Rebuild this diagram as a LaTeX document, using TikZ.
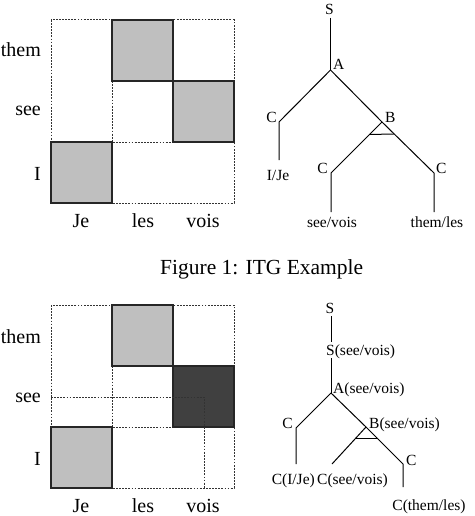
\documentclass[tikz,border=0pt]{standalone}
\usepackage{fontspec}
\setmainfont{Liberation Serif}
\usetikzlibrary{calc}
\begin{document}
\begin{tikzpicture}[x=1pt,y=-1pt,
  gridlbl/.style={inner sep=0pt,font=\fontsize{20}{24}\selectfont},
  treelbl/.style={inner sep=0pt,font=\fontsize{15.5}{18}\selectfont},
  caplbl/.style={inner sep=0pt,font=\fontsize{21.5}{26}\selectfont},
  dashline/.style={draw=black!80,line width=1pt,dash pattern=on 1.8pt off 1.3pt},
  cellbox/.style={draw=black!85,line width=1.1pt},
  branch/.style={draw=black,line width=1pt}]
\useasboundingbox (0,0) rectangle (474,516);
% ---------- top grid ----------
\draw[dashline] (51,20) rectangle (234,203);
\draw[dashline] (112,81) -- (112,142) -- (173,142);
\draw[cellbox,fill=black!25] (112,20) rectangle (173,81);
\draw[cellbox,fill=black!25] (173,81) rectangle (234,142);
\draw[cellbox,fill=black!25] (51,142) rectangle (112,203);
\node[gridlbl,anchor=base east] (t1) at (41,57) {them};
\node[gridlbl,anchor=base east] (t2) at (41,116) {see};
\node[gridlbl,anchor=base east] (t3) at (41,180) {I};
\node[gridlbl,anchor=base] (t4) at (81,227) {Je};
\node[gridlbl,anchor=base] (t5) at (143,227) {les};
\node[gridlbl,anchor=base] (t6) at (203,227) {vois};
% ---------- top tree ----------
\node[treelbl,anchor=base] (S1) at (329.5,15) {S};
\coordinate (S1b) at (330.5,18);
\coordinate (A1) at (330.5,70);
\coordinate (C1) at (279,122);
\coordinate (C1b) at (279,160);
\coordinate (B1) at (382,122);
\coordinate (C2) at (331,173);
\coordinate (C2b) at (331,212);
\coordinate (C3) at (434,173);
\coordinate (C3b) at (434,212);
\node[treelbl,anchor=base west] (A1l) at (333,70) {A};
\node[treelbl,anchor=base east] (C1l) at (277,122) {C};
\node[treelbl,anchor=base west] (B1l) at (385,122) {B};
\node[treelbl,anchor=base east] (C2l) at (328,173) {C};
\node[treelbl,anchor=base west] (C3l) at (436,173) {C};
\node[treelbl,anchor=base] (L1) at (278,180) {I/Je};
\node[treelbl,anchor=base] (L2) at (332,227) {see/vois};
\node[treelbl,anchor=base] (L3) at (437,227) {them/les};
\draw[branch] (S1b) -- (A1);
\draw[branch] (A1) -- (C1) -- (C1b);
\draw[branch] (A1) -- (B1);
\draw[branch] (B1) -- (C2) -- (C2b);
\draw[branch] (B1) -- (C3) -- (C3b);
\draw[branch] ($(B1)!0.245!(C2)$) -- ($(B1)!0.235!(C3)$);
% ---------- caption ----------
\node[caplbl,anchor=base west] (cap) at (160,274) {Figure 1: ITG Example};
% ---------- bottom grid ----------
\draw[dashline] (51,305) rectangle (234,488);
\draw[dashline] (112,366) -- (112,427) -- (173,427);
\draw[cellbox,fill=black!25] (112,305) rectangle (173,366);
\draw[cellbox,fill=black!75] (173,366) rectangle (234,427);
\draw[cellbox,fill=black!25] (51,427) rectangle (112,488);
\draw[dashline] (51,397) -- (204,397) -- (204,488);
\node[gridlbl,anchor=base east] (b1) at (41,343) {them};
\node[gridlbl,anchor=base east] (b2) at (41,402) {see};
\node[gridlbl,anchor=base east] (b3) at (41,465) {I};
\node[gridlbl,anchor=base] (b4) at (81,512) {Je};
\node[gridlbl,anchor=base] (b5) at (143,512) {les};
\node[gridlbl,anchor=base] (b6) at (203,512) {vois};
% ---------- bottom tree ----------
\node[treelbl,anchor=base] (S2) at (330,313) {S};
\coordinate (S2b) at (331,316);
\coordinate (S3t) at (331,342);
\node[treelbl,anchor=base west] (S3) at (326,355) {S(see/vois)};
\coordinate (S3b) at (331,358);
\coordinate (A2) at (331,393);
\node[treelbl,anchor=base west] (A2l) at (333,393) {A(see/vois)};
\coordinate (C4) at (296,428);
\coordinate (C4b) at (296,464);
\node[treelbl,anchor=base east] (C4l) at (293,428) {C};
\coordinate (B2) at (366,427);
\node[treelbl,anchor=base west] (B2l) at (369,428) {B(see/vois)};
\coordinate (C5) at (332,464);
\coordinate (C6) at (403,464);
\coordinate (C6b) at (403,487);
\node[treelbl,anchor=base west] (C6l) at (406,465) {C};
\node[treelbl,anchor=base east] (L4) at (315,484) {C(I/Je)};
\node[treelbl,anchor=base west] (L5) at (317,484) {C(see/vois)};
\node[treelbl,anchor=base] (L6) at (429,510) {C(them/les)};
\draw[branch] (S2b) -- (S3t);
\draw[branch] (S3b) -- (A2);
\draw[branch] (A2) -- (C4) -- (C4b);
\draw[branch] (A2) -- (B2);
\draw[branch] (B2) -- (C5);
\draw[branch] (B2) -- (C6) -- (C6b);
\draw[branch] ($(B2)!0.3!(C5)$) -- ($(B2)!0.3!(C6)$);
\end{tikzpicture}
\end{document}
